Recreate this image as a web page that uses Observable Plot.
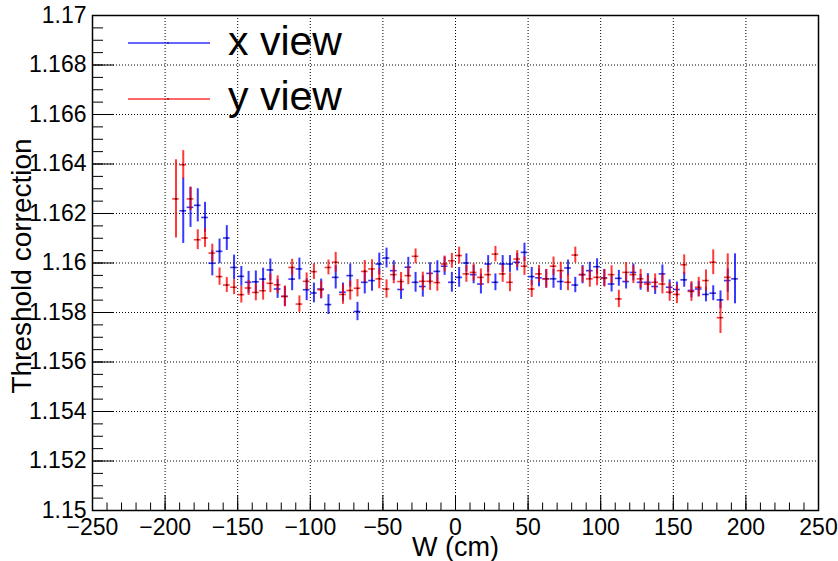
<!DOCTYPE html>
<html><head><meta charset="utf-8">
<script src="https://cdn.jsdelivr.net/npm/d3@7"></script>
<script src="https://cdn.jsdelivr.net/npm/@observablehq/plot@0.6"></script>
<style>body{margin:0;background:#fff;} svg{display:block}</style>
</head><body><div id="chart"></div>
<script>
// ---- data: x view (blue) ----
const xViewW = [-187.5,-182.5,-177.5,-172.5,-167.5,-162.5,-157.5,-152.5,-147.5,-142.5,-137.5,-132.5,-127.5,-122.5,-117.5,-112.5,-107.5,-102.5,-97.5,-92.5,-87.5,
 -82.5,-77.5,-72.5,-67.5,-62.5,-57.5,-52.5,-47.5,-42.5,-37.5,-32.5,-27.5,-22.5,-17.5,-12.5,-7.5,-2.5,
 2.5,7.5,12.5,17.5,22.5,27.5,32.5,37.5,42.5,47.5,52.5,57.5,62.5,67.5,72.5,77.5,82.5,87.5,92.5,97.5,
 102.5,107.5,112.5,117.5,122.5,127.5,132.5,137.5,142.5,147.5,152.5,157.5,162.5,167.5,172.5,177.5,182.5,187.5,192.5];
const xViewVal = [1.16211,1.16225,1.16233,1.16184,1.15999,1.16047,1.16101,1.15982,1.15946,1.15922,1.15924,1.15935,1.15972,1.15895,1.15865,1.15935,1.15976,1.15892,1.15879,1.15895,1.15832,
 1.15942,1.15882,1.15949,1.15804,1.15922,1.15929,1.15996,1.16020,1.15969,1.15893,1.15983,1.15922,1.15905,1.15958,1.15966,1.15987,1.15922,
 1.15942,1.16000,1.15953,1.15915,1.15996,1.15922,1.15996,1.15996,1.16003,1.16043,1.15945,1.15940,1.15936,1.15936,1.15925,1.15980,1.15911,1.15953,1.15969,1.15985,
 1.15940,1.15915,1.15938,1.15925,1.15962,1.15922,1.15922,1.15905,1.15956,1.15902,1.15893,1.15932,1.15889,1.15895,1.15873,1.15878,1.15851,1.15929,1.15936];
const xViewErr = [0.00132,0.00081,0.00067,0.00061,0.00051,0.00050,0.00050,0.00050,0.00040,0.00044,0.00044,0.00044,0.00044,0.00038,0.00040,0.00047,0.00044,0.00044,0.00040,0.00040,0.00040,
 0.00047,0.00037,0.00047,0.00037,0.00047,0.00043,0.00044,0.00040,0.00040,0.00040,0.00040,0.00040,0.00043,0.00043,0.00043,0.00037,0.00040,
 0.00040,0.00037,0.00037,0.00040,0.00034,0.00034,0.00034,0.00034,0.00035,0.00037,0.00037,0.00036,0.00037,0.00038,0.00036,0.00032,0.00031,0.00037,0.00034,0.00032,
 0.00034,0.00032,0.00032,0.00030,0.00034,0.00032,0.00035,0.00032,0.00036,0.00030,0.00030,0.00030,0.00030,0.00030,0.00030,0.00030,0.00036,0.00047,0.00101];

// ---- data: y view (red) ----
const yViewW = [-192.5,-187.5,-182.5,-177.5,-172.5,-167.5,-162.5,-157.5,-152.5,-147.5,-142.5,-137.5,-132.5,-127.5,-122.5,-117.5,-112.5,-107.5,-102.5,-97.5,-92.5,-87.5,
 -82.5,-77.5,-72.5,-67.5,-62.5,-57.5,-52.5,-47.5,-42.5,-37.5,-32.5,-27.5,-22.5,-17.5,-12.5,-7.5,-2.5,
 2.5,7.5,12.5,17.5,22.5,27.5,32.5,37.5,42.5,47.5,52.5,57.5,62.5,67.5,72.5,77.5,82.5,87.5,92.5,97.5,
 102.5,107.5,112.5,117.5,122.5,127.5,132.5,137.5,142.5,147.5,152.5,157.5,162.5,167.5,172.5,177.5,182.5,187.5];
const yViewVal = [1.16259,1.16397,1.16259,1.16094,1.16101,1.16040,1.15945,1.15911,1.15902,1.15872,1.15899,1.15881,1.15888,1.15918,1.15912,1.15865,1.15982,1.15834,1.15926,1.15965,1.15892,1.15982,
 1.16003,1.15873,1.15889,1.15898,1.15966,1.15976,1.15936,1.15895,1.15953,1.15925,1.15949,1.16027,1.15926,1.15926,1.15921,1.15996,1.16009,
 1.16030,1.15956,1.15962,1.15942,1.15953,1.16036,1.15956,1.15922,1.16016,1.15987,1.15895,1.15956,1.15936,1.15987,1.15969,1.15922,1.16032,1.15953,1.15936,1.15942,
 1.15938,1.15953,1.15855,1.15962,1.15953,1.15936,1.15915,1.15922,1.15915,1.15882,1.15873,1.15993,1.15885,1.15902,1.15929,1.16003,1.15779,1.15942];
const yViewErr = [0.00158,0.00057,0.00047,0.00040,0.00038,0.00036,0.00035,0.00030,0.00030,0.00034,0.00030,0.00034,0.00038,0.00038,0.00036,0.00042,0.00033,0.00033,0.00034,0.00032,0.00034,0.00030,
 0.00040,0.00040,0.00039,0.00035,0.00044,0.00037,0.00040,0.00037,0.00037,0.00037,0.00037,0.00030,0.00037,0.00037,0.00035,0.00032,0.00030,
 0.00034,0.00034,0.00035,0.00034,0.00037,0.00031,0.00034,0.00038,0.00034,0.00037,0.00034,0.00034,0.00038,0.00037,0.00034,0.00034,0.00032,0.00032,0.00034,0.00034,
 0.00035,0.00036,0.00035,0.00040,0.00036,0.00038,0.00034,0.00034,0.00040,0.00037,0.00037,0.00040,0.00040,0.00040,0.00043,0.00050,0.00064,0.00095];

const seriesNames = ["x view", "y view"];
const seriesColors = ["#0000ff", "#ff0000"];

// ---- axes ----
const xTickValues = [-250,-200,-150,-100,-50,0,50,100,150,200,250];
const xTickLabels = ["\u2212250","\u2212200","\u2212150","\u2212100","\u221250","0","50","100","150","200","250"];
const yTickValues = [1.15,1.152,1.154,1.156,1.158,1.16,1.162,1.164,1.166,1.168,1.17];
const yTickLabels = ["1.15","1.152","1.154","1.156","1.158","1.16","1.162","1.164","1.166","1.168","1.17"];
const xTitle = "W (cm)";
const yTitle = "Threshold correction";

const W = 838, H = 561;
const mL = 92, mR = 20, mT = 15, mB = 51;
const fw = W - mL - mR, fh = H - mT - mB;

const xMinor = d3.range(-250, 250.001, 10);
const yMinor = d3.range(0, 41).map(i => 1.15 + i * 0.0005);
const xGrid = xTickValues.slice(1, -1);
const yGrid = yTickValues.slice(1, -1);

function rows(ws, vs, es, k) {
  return ws.map((w, i) => ({w, v: vs[i], e: es[i], s: k}));
}
const xRows = rows(xViewW, xViewVal, xViewErr, 0);
const yRows = rows(yViewW, yViewVal, yViewErr, 1);

function errMarks(data, color) {
  return [
    Plot.ruleX(data, {x: "w", y1: d => d.v - d.e, y2: d => d.v + d.e, stroke: color, strokeWidth: 2, strokeOpacity: 0.78}),
    Plot.ruleY(data, {y: "v", x1: d => d.w - 2.3, x2: d => d.w + 2.3, stroke: color, strokeWidth: 1.6, strokeOpacity: 0.78}),
    Plot.dot(data, {x: "w", y: "v", r: 0.8, fill: "black", stroke: null})
  ];
}

const font = "'Liberation Sans', Arial, Helvetica, sans-serif";

const chart = Plot.plot({
  width: W, height: H,
  marginLeft: mL, marginRight: mR, marginTop: mT, marginBottom: mB,
  x: {domain: [-250, 250], axis: null},
  y: {domain: [1.15, 1.17], axis: null},
  style: {fontFamily: font, background: "white", color: "black"},
  marks: [
    Plot.ruleX(xGrid, {x: d => d, stroke: "black", strokeDasharray: "1,2", strokeWidth: 1}),
    Plot.ruleY(yGrid, {y: d => d, stroke: "black", strokeDasharray: "1,2", strokeWidth: 1}),
    Plot.tickY(yMinor, {y: d => d, insetRight: fw - 11, stroke: "black", strokeWidth: 1}),
    Plot.tickY(yTickValues, {y: d => d, insetRight: fw - 22, stroke: "black", strokeWidth: 1}),
    Plot.tickX(xMinor, {x: d => d, insetTop: fh - 7.5, stroke: "black", strokeWidth: 1}),
    Plot.tickX(xTickValues, {x: d => d, insetTop: fh - 15, stroke: "black", strokeWidth: 1}),
    ...errMarks(xRows, seriesColors[0]),
    ...errMarks(yRows, seriesColors[1]),
    Plot.text(yTickValues, {y: d => d, frameAnchor: "left", dx: -6, text: (d, i) => yTickLabels[i], textAnchor: "end", lineAnchor: "middle", fontSize: 23, fill: "black"}),
    Plot.text(xTickValues, {x: d => d, frameAnchor: "bottom", dy: 17, text: (d, i) => xTickLabels[i], textAnchor: "middle", lineAnchor: "middle", fontSize: 23, fill: "black"}),
    Plot.text([xTitle], {frameAnchor: "bottom", dy: 37, text: d => d, textAnchor: "middle", lineAnchor: "middle", fontSize: 27, fill: "black"}),
    Plot.text([yTitle], {frameAnchor: "left", dx: -70, dy: 3, rotate: -90, text: d => d, textAnchor: "middle", lineAnchor: "middle", fontSize: 28, fill: "black"}),
    Plot.frame({stroke: "black", strokeWidth: 1.5})
  ]
});

// legend
const svg = d3.select(chart);
const leg = svg.append("g").attr("font-family", font).attr("text-anchor", "start");
const legY = [43, 99];
const legBase = [55, 110];
seriesNames.forEach((name, i) => {
  leg.append("line").attr("x1", 128).attr("x2", 210).attr("y1", legY[i]).attr("y2", legY[i])
    .attr("stroke", seriesColors[i]).attr("stroke-width", 1.5).attr("stroke-opacity", 0.8);
  leg.append("circle").attr("cx", 168).attr("cy", legY[i]).attr("r", 0.8).attr("fill", "black");
  leg.append("text").attr("x", 228).attr("y", legBase[i]).attr("font-size", 41).attr("fill", "black").text(name);
});

document.getElementById("chart").appendChild(chart);
</script>
</body></html>
